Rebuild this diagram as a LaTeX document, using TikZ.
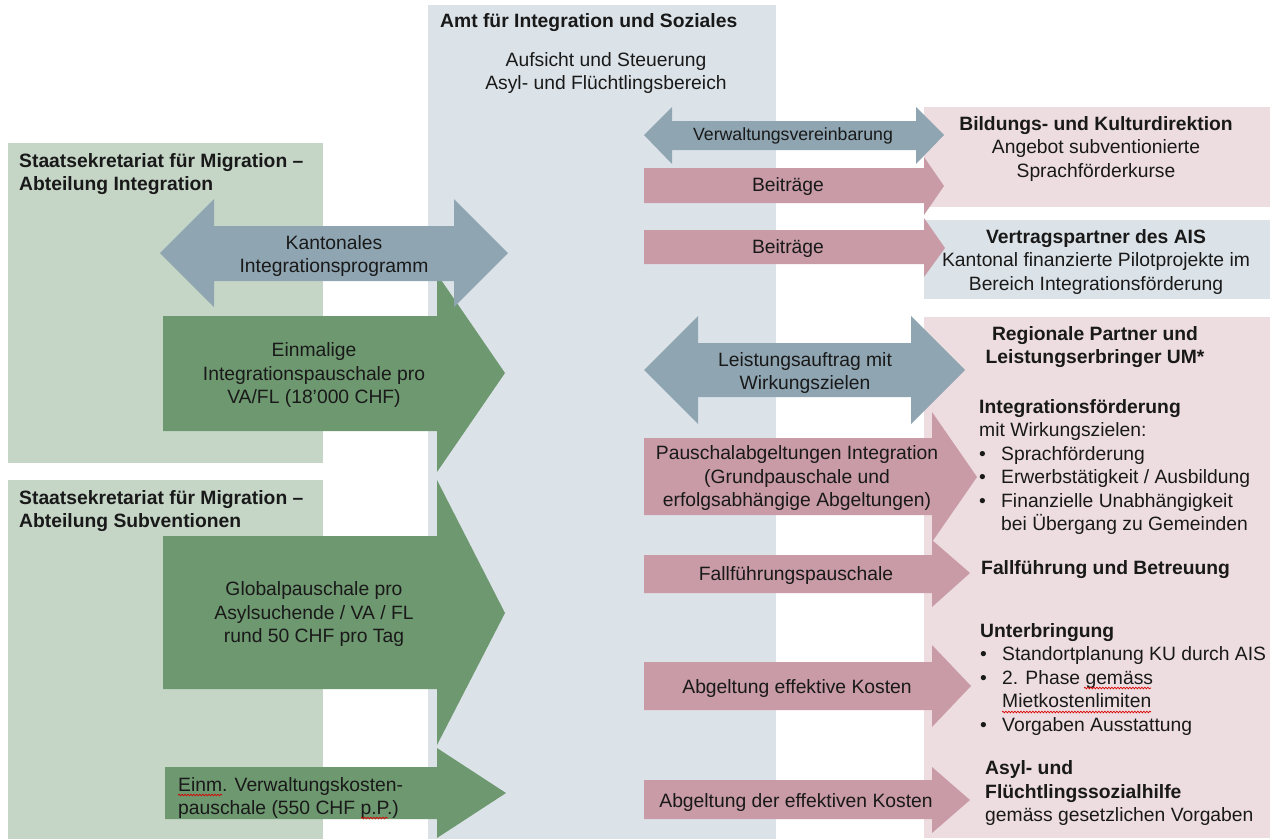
\documentclass[tikz,border=0pt]{standalone}
\usepackage{fontspec}
\setmainfont{Liberation Sans}
\usetikzlibrary{decorations.pathmorphing}
\definecolor{semback}{HTML}{C5D6C7}
\definecolor{semarrow}{HTML}{6E9870}
\definecolor{aisback}{HTML}{DCE3E8}
\definecolor{linkarrow}{HTML}{8FA5B2}
\definecolor{payarrow}{HTML}{C89BA6}
\definecolor{partnerback}{HTML}{EDDDE1}
\newcommand{\bulletitem}[1]{\makebox[22pt][l]{\textbullet}#1}
\newcommand{\bulletcont}[1]{\hspace*{22pt}#1}

\begin{document}
\begin{tikzpicture}[x=1pt,y=-1pt,plain/.style={inner sep=0pt,text=black!90,font=\fontsize{19.3}{23.5}\selectfont},heading/.style={plain,font=\fontsize{19.3}{23.5}\selectfont\bfseries},small/.style={plain,font=\fontsize{17.7}{21}\selectfont},spellmark/.style={draw=red!85!black,line width=0.7pt,decorate,decoration={snake,amplitude=0.8pt,segment length=3pt}}]
\useasboundingbox (0,0) rectangle (1284,839);
\fill[aisback] (428,5) rectangle (776,839);
\fill[semback] (8,143) rectangle (323,463);
\fill[semback] (8,480) rectangle (323,839);
\fill[partnerback] (924,107) rectangle (1270,207);
\fill[aisback] (924,220) rectangle (1270,299);
\fill[partnerback] (924,317) rectangle (1270,838);
\fill[semarrow] (163,316) -- (437,316) -- (437,274) -- (505,373) -- (437,472) -- (437,431) -- (163,431) -- cycle;
\fill[semarrow] (163,536) -- (437,536) -- (437,480) -- (505,613) -- (437,745) -- (437,689) -- (163,689) -- cycle;
\fill[semarrow] (165,767) -- (437,767) -- (437,748) -- (506,793) -- (437,838) -- (437,819) -- (165,819) -- cycle;
\fill[linkarrow] (160,253) -- (214,199) -- (214,226) -- (454,226) -- (454,199) -- (508,253) -- (454,307) -- (454,281) -- (214,281) -- (214,307) -- cycle;
\fill[linkarrow] (644,135) -- (672,107) -- (672,121) -- (916,121) -- (916,107) -- (944,135) -- (916,164) -- (916,150) -- (672,150) -- (672,164) -- cycle;
\fill[payarrow] (644,168) -- (924,168) -- (924,157) -- (944,186) -- (924,215) -- (924,203) -- (644,203) -- cycle;
\fill[payarrow] (644,230) -- (924,230) -- (924,218) -- (945,248) -- (924,277) -- (924,264) -- (644,264) -- cycle;
\fill[linkarrow] (644,370) -- (698,316) -- (698,343) -- (911,343) -- (911,316) -- (965,370) -- (911,424) -- (911,397) -- (698,397) -- (698,424) -- cycle;
\fill[payarrow] (644,438) -- (932,438) -- (932,412) -- (977,477) -- (932,542) -- (932,515) -- (644,515) -- cycle;
\fill[payarrow] (644,555) -- (932,555) -- (932,540) -- (970,573) -- (932,607) -- (932,593) -- (644,593) -- cycle;
\fill[payarrow] (644,662) -- (932,662) -- (932,645) -- (971,686) -- (932,727) -- (932,710) -- (644,710) -- cycle;
\fill[payarrow] (644,780) -- (932,780) -- (932,767) -- (970,800) -- (932,833) -- (932,819) -- (644,819) -- cycle;
\node[heading,anchor=west] (amt) at (440,23) {Amt für Integration und Soziales};
\node[plain,align=center] (aufsicht) at (606,73) {Aufsicht und Steuerung\\Asyl- und Flüchtlingsbereich};
\node[heading,anchor=west,align=left] (semint) at (19,174) {Staatsekretariat für Migration –\\Abteilung Integration};
\node[heading,anchor=west,align=left] (semsub) at (19,511) {Staatsekretariat für Migration –\\Abteilung Subventionen};
\node[plain,align=center] (kip) at (334,256) {Kantonales\\Integrationsprogramm};
\node[plain,align=center] (einmal) at (314,375) {Einmalige\\Integrationspauschale pro\\VA/FL (18’000 CHF)};
\node[plain,align=center] (global) at (314,614) {Globalpauschale pro\\Asylsuchende / VA / FL\\rund 50 CHF pro Tag};
\node[plain,anchor=west,align=left] (verwkost) at (178,798) {Einm. Verwaltungskosten-\\pauschale (550 CHF p.P.)};
\node[small] (verwver) at (793,136) {Verwaltungsvereinbarung};
\node[plain] (beitrbkd) at (788,187) {Beiträge};
\node[plain] (beitrais) at (788,249) {Beiträge};
\node[plain,align=center] (bkd) at (1096,149) {\textbf{Bildungs- und Kulturdirektion}\\Angebot subventionierte\\Sprachförderkurse};
\node[plain,align=center] (vertrag) at (1096,262) {\textbf{Vertragspartner des AIS}\\Kantonal finanzierte Pilotprojekte im\\Bereich Integrationsförderung};
\node[plain,align=center] (leistung) at (805,373) {Leistungsauftrag mit\\Wirkungszielen};
\node[heading,align=center] (regional) at (1095,347) {Regionale Partner und\\Leistungserbringer UM*};
\node[plain,anchor=west,align=left] (intfoerd) at (979,467) {\textbf{Integrationsförderung}\\mit Wirkungszielen:\\\bulletitem{Sprachförderung}\\\bulletitem{Erwerbstätigkeit / Ausbildung}\\\bulletitem{Finanzielle Unabhängigkeit}\\\bulletcont{bei Übergang zu Gemeinden}};
\node[plain,align=center] (pauschal) at (797,478) {Pauschalabgeltungen Integration\\(Grundpauschale und\\erfolgsabhängige Abgeltungen)};
\node[plain] (fallpausch) at (796,575) {Fallführungspauschale};
\node[heading,anchor=west] (fallbetr) at (981,570) {Fallführung und Betreuung};
\node[plain,anchor=west,align=left] (unterbr) at (980,679) {\textbf{Unterbringung}\\\bulletitem{Standortplanung KU durch AIS}\\\bulletitem{2. Phase gemäss}\\\bulletcont{Mietkostenlimiten}\\\bulletitem{Vorgaben Ausstattung}};
\node[plain] (abgeff) at (797,688) {Abgeltung effektive Kosten};
\node[plain] (abgder) at (796,802) {Abgeltung der effektiven Kosten};
\node[plain,anchor=west,align=left] (sozhilfe) at (985,793) {\textbf{Asyl- und}\\\textbf{Flüchtlingssozialhilfe}\\gemäss gesetzlichen Vorgaben};
\draw[spellmark] (178,795) -- (222,795);
\draw[spellmark] (361,818) -- (388,818);
\draw[spellmark] (1084,688) -- (1151,688);
\draw[spellmark] (1002,712) -- (1151,712);
\end{tikzpicture}
\end{document}
